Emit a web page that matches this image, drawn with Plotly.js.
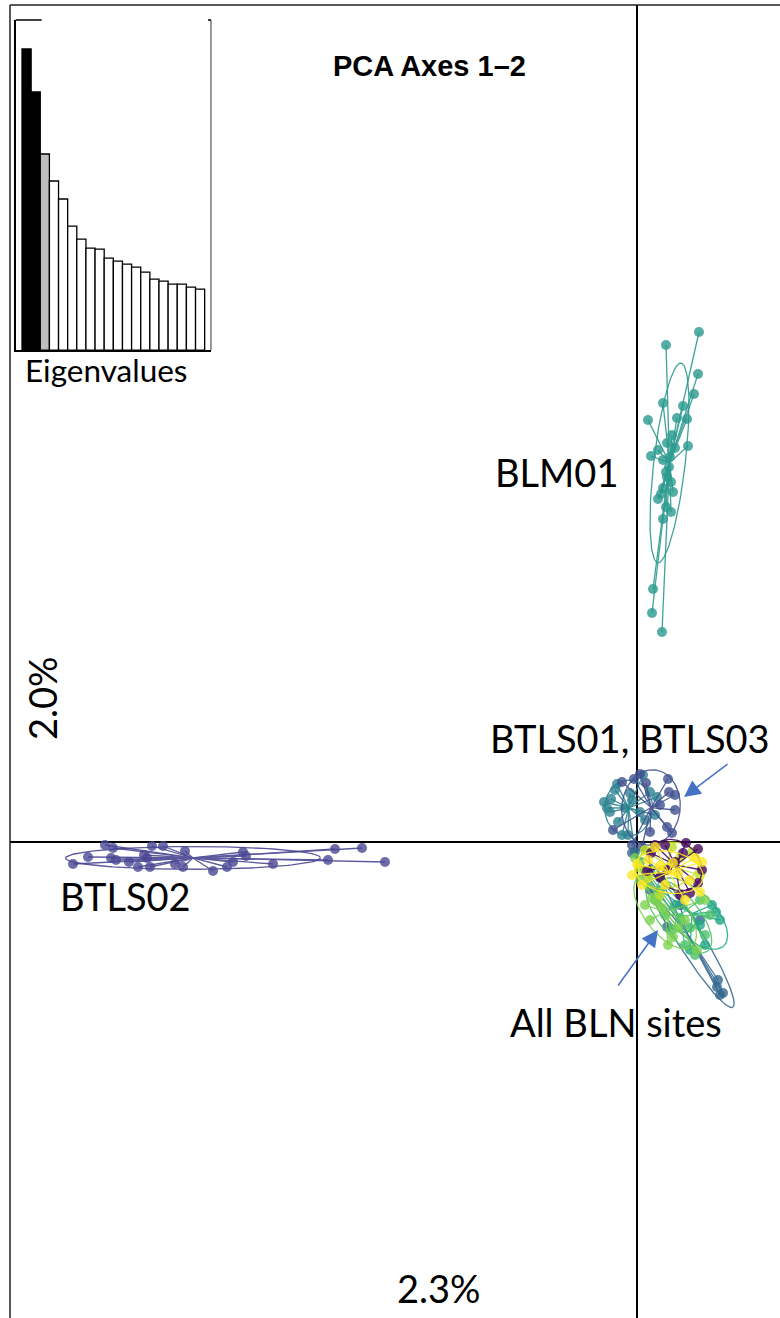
<!DOCTYPE html>
<html>
<head>
<meta charset="utf-8">
<script src="https://cdn.plot.ly/plotly-3.0.1.min.js"></script>
<style>html,body{margin:0;padding:0;background:#fff;}#chart{width:780px;height:1318px;}</style>
</head>
<body>
<div id="chart"></div>
<script>
// ---- Eigenvalues (inset) ----
const eigenIndex = [1,2,3,4,5,6,7,8,9,10,11,12,13,14,15,16,17,18,19,20];
const eigenValues = [3.01,2.58,1.96,1.69,1.51,1.24,1.11,1.02,1.01,0.92,0.89,0.86,0.83,0.78,0.71,0.69,0.66,0.66,0.63,0.61];
const eigenColors = ['#000000','#000000','#BEBEBE','#FFFFFF','#FFFFFF','#FFFFFF','#FFFFFF','#FFFFFF','#FFFFFF','#FFFFFF','#FFFFFF','#FFFFFF','#FFFFFF','#FFFFFF','#FFFFFF','#FFFFFF','#FFFFFF','#FFFFFF','#FFFFFF','#FFFFFF'];

// ---- PCA scores (PC1, PC2) per population ----
const btls02_pc1 = [-5.32,-5.24,-4.85,-4.74,-4.52,-5.49,-5.26,-5.21,-5.08,-4.93,-4.90,-5.64,-4.99,-4.87,-4.62,-4.54,-4.24,-4.10,-4.04,-3.94,-3.91,-3.64,-3.09,-3.02,-2.75,-2.52];
const btls02_pc2 = [-0.03,-0.06,-0.04,-0.04,-0.09,-0.15,-0.16,-0.18,-0.20,-0.13,-0.16,-0.22,-0.25,-0.25,-0.22,-0.25,-0.29,-0.25,-0.20,-0.10,-0.14,-0.22,-0.18,-0.07,-0.06,-0.20];

const blm01_pc1 = [0.62,0.29,0.61,0.57,0.26,0.46,0.40,0.50,0.11,0.35,0.30,0.51,0.21,0.14,0.38,0.26,0.32,0.34,0.30,0.26,0.36,0.24,0.21,0.29,0.34,0.26,0.16,0.15,0.25,0.33,0.29];
const blm01_pc2 = [5.10,4.97,4.68,4.48,4.39,4.36,4.24,4.23,4.22,4.07,3.99,3.96,3.92,3.86,3.94,3.82,3.75,3.60,3.65,3.54,3.50,3.48,3.43,3.35,3.30,3.23,2.53,2.29,2.10,3.85,3.70];

const btls01_pc1 = [0.06,-0.22,-0.07,0.13,0.20,-0.26,-0.30,-0.27,-0.12,-0.19,-0.09,-0.15,-0.02,0.03,0.08,-0.05,0.18,-0.33,-0.20];
const btls01_pc2 = [0.67,0.52,0.49,0.50,0.45,0.43,0.34,0.30,0.34,0.20,0.07,0.07,-0.10,0.30,0.22,0.42,0.27,0.40,0.58];

const btls03_pc1 = [-0.03,0.09,-0.15,0.31,0.32,0.38,0.38,0.35,0.13,0.30,-0.05,0.05,-0.24,0.23,0.03];
const btls03_pc2 = [0.63,0.59,0.60,0.63,0.50,0.47,0.32,0.09,0.10,0.15,-0.03,-0.05,0.12,0.37,0.68];

const blnG_pc1 = [0.81,0.80,0.83,0.86,0.13,0.30,-0.05,0.23,0.43,0.63];
const blnG_pc2 = [-1.38,-1.45,-1.53,-1.51,-0.48,-0.85,-0.11,-0.36,-0.63,-0.78];

const blnF_pc1 = [0.75,0.79,0.63,0.53,0.68,0.23,0.38,0.83,0.13];
const blnF_pc2 = [-0.63,-0.70,-0.83,-1.08,-1.03,-0.48,-0.63,-0.78,-0.28];

const blnE_pc1 = [0.03,0.11,0.18,0.28,0.35,0.48,0.58,0.68,0.73,0.63,0.43,0.53];
const blnE_pc2 = [-0.20,-0.43,-0.58,-0.73,-0.88,-1.03,-1.13,-0.93,-0.73,-0.58,-0.76,-0.86];

const blnD_pc1 = [0.15,0.25,0.36,0.60,0.41,0.20,0.03,0.08,0.31,0.48,0.13,0.68,-0.02];
const blnD_pc2 = [-0.56,-0.66,-0.95,-1.08,-0.86,-0.60,-0.38,-0.63,-1.03,-0.78,-0.78,-0.58,-0.16];

const blnC_pc1 = [0.35,0.55,0.11,0.08,0.63,0.23,0.43,0.03];
const blnC_pc2 = [-0.05,-0.10,-0.35,-0.08,-0.33,-0.53,-0.16,-0.26];

const blnA_pc1 = [0.18,0.28,0.49,0.61,0.46,0.65,0.61,0.30,0.23,0.10,0.14,0.53,0.38,0.43];
const blnA_pc2 = [-0.03,-0.03,-0.01,-0.07,-0.11,-0.28,-0.41,-0.28,-0.35,-0.29,-0.11,-0.51,-0.20,-0.53];

const blnB_pc1 = [0.00,0.11,0.05,0.65,0.63,0.36,0.41,0.18,0.53,0.28,0.48,0.23,0.58,-0.05];
const blnB_pc2 = [-0.22,-0.18,-0.43,-0.20,-0.50,-0.21,-0.31,-0.05,-0.38,-0.43,-0.58,-0.24,-0.16,-0.33];

const groupNames = ['BTLS02','BLM01','BTLS01','BTLS03','BLN-G','BLN-F','BLN-E','BLN-D','BLN-C','BLN-A','BLN-B'];
const groupColors = ['#4A4793','#2B9A8F','#2C8290','#40508F','#33668E','#22A884','#4CC26C','#7CD250','#BEDF26','#46095F','#FDE725'];
const groupX = [btls02_pc1,blm01_pc1,btls01_pc1,btls03_pc1,blnG_pc1,blnF_pc1,blnE_pc1,blnD_pc1,blnC_pc1,blnA_pc1,blnB_pc1];
const groupY = [btls02_pc2,blm01_pc2,btls01_pc2,btls03_pc2,blnG_pc2,blnF_pc2,blnE_pc2,blnD_pc2,blnC_pc2,blnA_pc2,blnB_pc2];

// ---- build traces (s.class style: stars + 1.5 SD ellipse + points) ----
function mean(a){return a.reduce((s,v)=>s+v,0)/a.length;}
function ellipse(xs, ys, k){
  const n = xs.length, mx = mean(xs), my = mean(ys);
  let vxx=0,vyy=0,vxy=0;
  for(let i=0;i<n;i++){const dx=xs[i]-mx, dy=ys[i]-my; vxx+=dx*dx; vyy+=dy*dy; vxy+=dx*dy;}
  vxx/=n; vyy/=n; vxy/=n;
  const tr=vxx+vyy, det=vxx*vyy-vxy*vxy, disc=Math.sqrt(Math.max(tr*tr/4-det,0));
  const l1=tr/2+disc, l2=Math.max(tr/2-disc,0);
  const th=0.5*Math.atan2(2*vxy, vxx-vyy);
  const a=k*Math.sqrt(l1), b=k*Math.sqrt(l2);
  const ex=[], ey=[];
  for(let j=0;j<=120;j++){
    const t=2*Math.PI*j/120;
    ex.push(mx + a*Math.cos(t)*Math.cos(th) - b*Math.sin(t)*Math.sin(th));
    ey.push(my + a*Math.cos(t)*Math.sin(th) + b*Math.sin(t)*Math.cos(th));
  }
  return {ex, ey};
}

const traces = [];
for(let g=0; g<groupNames.length; g++){
  const xs=groupX[g], ys=groupY[g], col=groupColors[g];
  const cx=mean(xs), cy=mean(ys);
  const sx=[], sy=[];
  for(let i=0;i<xs.length;i++){sx.push(cx,xs[i],null); sy.push(cy,ys[i],null);}
  traces.push({type:'scatter',mode:'lines',x:sx,y:sy,line:{color:col,width:1.3},opacity:0.9,hoverinfo:'skip',name:groupNames[g]});
  const e=ellipse(xs,ys,1.5);
  traces.push({type:'scatter',mode:'lines',x:e.ex,y:e.ey,line:{color:col,width:1.3},opacity:0.9,hoverinfo:'skip',name:groupNames[g]});
  traces.push({type:'scatter',mode:'markers',x:xs,y:ys,marker:{color:col,size:10,opacity:0.8,line:{width:0}},name:groupNames[g]});
}

traces.push({type:'bar',x:eigenIndex,y:eigenValues,xaxis:'x2',yaxis:'y2',width:1,
  marker:{color:eigenColors,line:{color:'#000',width:1.3}},hoverinfo:'y'});

const lblFont = {family:'Lato, "Open Sans", sans-serif', size:38, color:'#000'};
const arrowCol = '#4472C4';

const layout = {
  width:780, height:1318,
  margin:{l:10,r:0,t:5,b:0},
  paper_bgcolor:'#fff', plot_bgcolor:'#fff',
  showlegend:false, bargap:0,
  xaxis:{range:[-6.27,1.43],showgrid:false,zeroline:true,zerolinecolor:'#000',zerolinewidth:1.5,showticklabels:false,ticks:'',showline:false,fixedrange:true},
  yaxis:{range:[-4.76,8.37],showgrid:false,zeroline:true,zerolinecolor:'#000',zerolinewidth:1.5,showticklabels:false,ticks:'',showline:false,fixedrange:true},
  xaxis2:{domain:[0.0074,0.261],anchor:'y2',range:[-0.19,21.19],showgrid:false,zeroline:false,showticklabels:false,ticks:'',showline:true,linecolor:'#000',linewidth:1.5,fixedrange:true},
  yaxis2:{domain:[0.7372,0.9886],anchor:'x2',range:[0,3.3],showgrid:false,zeroline:false,showticklabels:false,ticks:'',showline:true,linecolor:'#000',linewidth:1.5,fixedrange:true},
  shapes:[
    {type:'line',xref:'paper',yref:'paper',x0:0,x1:0,y0:0,y1:1,line:{color:'#222',width:1.5}},
    {type:'line',xref:'paper',yref:'paper',x0:0,x1:1,y0:1,y1:1,line:{color:'#222',width:1.5}},
    {type:'line',xref:'x2 domain',yref:'y2 domain',x0:1,x1:1,y0:0,y1:1,line:{color:'#333',width:1}},
    {type:'line',xref:'x2 domain',yref:'y2 domain',x0:0,x1:0.133,y0:1,y1:1,line:{color:'#000',width:1.5}},
    {type:'line',xref:'x2 domain',yref:'y2 domain',x0:0.985,x1:1,y0:1,y1:1,line:{color:'#000',width:1.5}}
  ],
  annotations:[
    {xref:'paper',yref:'paper',x:(429-10)/770,y:1-(66-5)/1313,text:'<b>PCA Axes 1–2</b>',showarrow:false,font:{family:'Liberation Sans, Arial, sans-serif',size:29,color:'#000'},xanchor:'center',yanchor:'middle'},
    {xref:'paper',yref:'paper',x:(107-10)/770,y:1-(370-5)/1313,text:'Eigenvalues',showarrow:false,font:{family:'Lato, sans-serif',size:31.5,color:'#000'},xanchor:'center',yanchor:'middle'},
    {x:-0.81,y:3.70,text:'BLM01',showarrow:false,font:lblFont,xanchor:'center',yanchor:'middle'},
    {x:-0.07,y:1.04,text:'BTLS01, BTLS03',showarrow:false,font:lblFont,xanchor:'center',yanchor:'middle'},
    {x:-5.12,y:-0.54,text:'BTLS02',showarrow:false,font:lblFont,xanchor:'center',yanchor:'middle'},
    {x:-0.21,y:-1.80,text:'All BLN sites',showarrow:false,font:lblFont,xanchor:'center',yanchor:'middle'},
    {x:-5.95,y:1.44,text:'2.0%',textangle:-90,showarrow:false,font:lblFont,xanchor:'center',yanchor:'middle'},
    {x:-1.98,y:-4.46,text:'2.3%',showarrow:false,font:lblFont,xanchor:'center',yanchor:'middle'},
    {x:0.47,y:0.45,ax:0.92,ay:0.79,axref:'x',ayref:'y',text:'',showarrow:true,arrowhead:2,arrowsize:2.2,arrowwidth:1.5,arrowcolor:arrowCol},
    {x:0.21,y:-0.88,ax:-0.20,ay:-1.45,axref:'x',ayref:'y',text:'',showarrow:true,arrowhead:2,arrowsize:2.2,arrowwidth:1.5,arrowcolor:arrowCol}
  ]
};

Plotly.newPlot('chart', traces, layout, {staticPlot:true, displayModeBar:false});
</script>
</body>
</html>
